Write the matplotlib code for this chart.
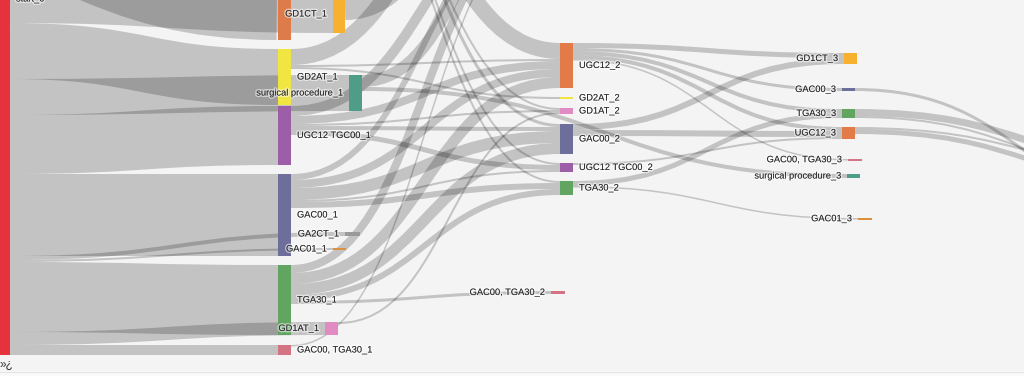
import matplotlib
matplotlib.use("Agg")
import matplotlib.pyplot as plt
from matplotlib.path import Path
from matplotlib.patches import PathPatch, Rectangle
import matplotlib.patheffects as pe

# ---------------- data ----------------
nodes = ["start_0",
         "UGC12_1", "GD1CT_1", "GD2AT_1", "surgical procedure_1", "UGC12 TGC00_1",
         "GAC00_1", "GA2CT_1", "GAC01_1", "TGA30_1", "GD1AT_1", "GAC00, TGA30_1",
         "GD1CT_2", "GD3_2",
         "UGC12_2", "GD2AT_2", "GD1AT_2", "GAC00_2", "UGC12 TGC00_2", "TGA30_2",
         "GAC00, TGA30_2",
         "GD1CT_3", "GAC00_3", "TGA30_3", "UGC12_3", "GAC00, TGA30_3",
         "surgical procedure_3", "GAC01_3",
         "TGA30_4", "UGC12_4", "GAC00_4"]

link_source = ["start_0"] * 11 + [
    "UGC12_1", "UGC12_1", "UGC12_1", "UGC12_1", "UGC12_1", "UGC12_1",
    "GD1CT_1",
    "GD2AT_1", "GD2AT_1", "GD2AT_1",
    "surgical procedure_1", "surgical procedure_1",
    "UGC12 TGC00_1", "UGC12 TGC00_1", "UGC12 TGC00_1", "UGC12 TGC00_1", "UGC12 TGC00_1",
    "GAC00_1", "GAC00_1", "GAC00_1", "GAC00_1", "GAC00_1",
    "TGA30_1", "TGA30_1", "TGA30_1", "TGA30_1", "TGA30_1",
    "GD1AT_1", "GAC00, TGA30_1",
    "UGC12_2", "UGC12_2", "UGC12_2", "UGC12_2", "UGC12_2",
    "GAC00_2", "GAC00_2", "UGC12 TGC00_2", "TGA30_2", "TGA30_2",
    "GAC00_3", "TGA30_3", "TGA30_3", "UGC12_3", "UGC12_3"]
link_target = [
    "UGC12_1", "GD1CT_1", "GD2AT_1", "surgical procedure_1", "UGC12 TGC00_1",
    "GAC00_1", "GA2CT_1", "GAC01_1", "TGA30_1", "GD1AT_1", "GAC00, TGA30_1",
    "GD1CT_2", "UGC12_2", "GD1AT_2", "GAC00_2", "UGC12 TGC00_2", "TGA30_2",
    "GD1CT_2",
    "GD1CT_2", "UGC12_2", "GD2AT_2",
    "GD3_2", "surgical procedure_3",
    "GD3_2", "UGC12_2", "GD1AT_2", "GAC00_2", "UGC12 TGC00_2",
    "GD3_2", "UGC12_2", "GAC00_2", "UGC12 TGC00_2", "TGA30_2",
    "GD3_2", "UGC12_2", "GAC00_2", "TGA30_2", "GAC00, TGA30_2",
    "GD1AT_2", "GD3_2",
    "GD1CT_3", "GAC00_3", "TGA30_3", "UGC12_3", "GAC00, TGA30_3",
    "GD1CT_3", "UGC12_3", "UGC12_3", "TGA30_3", "GAC01_3",
    "GAC00_4", "TGA30_4", "UGC12_4", "UGC12_4", "TGA30_4"]
link_value = [
    342, 38, 56, 36, 59, 82, 4, 2, 70, 13, 10,
    60, 16, 2, 3, 2, 2,
    25,
    16, 2, 2,
    12, 4,
    10, 8, 2, 4, 5,
    6, 8, 12, 2, 6,
    8, 11, 11, 6, 3,
    2, 1.5,
    5, 3, 4, 4, 1.5,
    6, 6, 2, 5, 1.5,
    3, 7, 2, 5, 2]

# ---------------- layout / style ----------------
SCALE = 1.0  # px per unit
layout = {  # name: (x0, y0, width, colour, label side)
    "start_0": (0, -357, 10, "#e6323c", "r"),
    "UGC12_1": (278, -302, 13, "#dd7b4b", "r"),
    "GD1CT_1": (333, -5, 12, "#f7b12f", "l"),
    "GD2AT_1": (278, 49, 13, "#f1e641", "r"),
    "surgical procedure_1": (349, 75, 13, "#4f9c88", "l"),
    "UGC12 TGC00_1": (278, 106, 13, "#9b5ea7", "r"),
    "GAC00_1": (278, 174, 13, "#6e6e9b", "r"),
    "GA2CT_1": (345, 232, 15, "#9a9a9a", "l"),
    "GAC01_1": (333, 248, 13, "#dc8f3e", "l"),
    "TGA30_1": (278, 265, 13, "#62a561", "r"),
    "GD1AT_1": (325, 322, 13, "#e08bc1", "l"),
    "GAC00, TGA30_1": (278, 345, 13, "#d47483", "r"),
    "GD1CT_2": (560, -300, 13, "#f7b12f", "r"),
    "GD3_2": (560, -120, 13, "#9a9a9a", "r"),
    "UGC12_2": (560, 43, 13, "#e27b48", "r"),
    "GD2AT_2": (560, 97, 13, "#f1e641", "r"),
    "GD1AT_2": (560, 108, 13, "#e08bc1", "r"),
    "GAC00_2": (560, 124, 13, "#6e6e9b", "r"),
    "UGC12 TGC00_2": (560, 163, 13, "#9b5ea7", "r"),
    "TGA30_2": (560, 181, 13, "#62a561", "r"),
    "GAC00, TGA30_2": (551, 291, 14, "#d47483", "l"),
    "GD1CT_3": (844, 53, 13, "#f7b12f", "l"),
    "GAC00_3": (842, 88, 13, "#6e6e9b", "l"),
    "TGA30_3": (842, 109, 13, "#62a561", "l"),
    "UGC12_3": (842, 127, 13, "#e27b48", "l"),
    "GAC00, TGA30_3": (848, 159, 14, "#d47483", "l"),
    "surgical procedure_3": (847, 174, 13, "#4f9c88", "l"),
    "GAC01_3": (858, 218, 14, "#dc8f3e", "l"),
    "TGA30_4": (1200, 165, 13, "#62a561", "l"),
    "UGC12_4": (1200, 182, 13, "#e27b48", "l"),
    "GAC00_4": (1200, 215, 13, "#6e6e9b", "l"),
}
W, H = 1024, 376

# ---------------- sankey geometry ----------------
vin = {n: 0.0 for n in nodes}
vout = {n: 0.0 for n in nodes}
for s, t, v in zip(link_source, link_target, link_value):
    vout[s] += v
    vin[t] += v
geo = {}
for n in nodes:
    x0, y0, w, c, side = layout[n]
    h = max(vin[n], vout[n]) * SCALE
    geo[n] = dict(x0=x0, x1=x0 + w, y0=y0, y1=y0 + h, c=c, side=side)
center = {n: (geo[n]["y0"] + geo[n]["y1"]) / 2 for n in nodes}

links = list(zip(link_source, link_target, link_value))
sy = {}
ty = {}
for n in nodes:
    outs = sorted([i for i, l in enumerate(links) if l[0] == n], key=lambda i: center[links[i][1]])
    y = geo[n]["y0"]
    for i in outs:
        w = links[i][2] * SCALE
        sy[i] = y + w / 2
        y += w
    ins = sorted([i for i, l in enumerate(links) if l[1] == n], key=lambda i: center[links[i][0]])
    y = geo[n]["y0"]
    for i in ins:
        w = links[i][2] * SCALE
        ty[i] = y + w / 2
        y += w

# ---------------- drawing ----------------
BG = "#f4f4f4"
fig = plt.figure(figsize=(10.24, 3.76), dpi=100, facecolor=BG)
ax = fig.add_axes([0, 0, 1, 1])
ax.set_facecolor(BG)
ax.set_xlim(0, W)
ax.set_ylim(H, 0)
ax.axis("off")

PX = 72.0 / 100.0
for i, (s, t, v) in enumerate(links):
    xa = geo[s]["x1"]
    xb = geo[t]["x0"]
    xm = (xa + xb) / 2
    verts = [(xa, sy[i]), (xm, sy[i]), (xm, ty[i]), (xb, ty[i])]
    path = Path(verts, [Path.MOVETO, Path.CURVE4, Path.CURVE4, Path.CURVE4])
    ax.add_patch(PathPatch(path, facecolor="none", edgecolor=(0, 0, 0, 0.2),
                           lw=max(1.0, v * SCALE) * PX, capstyle="butt", zorder=2))

FONT = ["Liberation Sans", "DejaVu Sans"]
halo = [pe.withStroke(linewidth=2.0, foreground=(1, 1, 1, 0.55))]
for n in nodes:
    g = geo[n]
    ax.add_patch(Rectangle((g["x0"], g["y0"]), g["x1"] - g["x0"], g["y1"] - g["y0"],
                           facecolor=g["c"], edgecolor="none", zorder=3))
    cy = center[n]
    # labels of nodes lying wholly outside the visible crop are not drawn
    if cy < -8 or g["x0"] > W:
        continue
    if g["side"] == "r":
        ax.text(g["x1"] + 6, cy, n, ha="left", va="center", fontsize=6.7,
                family=FONT, color="#222222", path_effects=halo, zorder=4)
    else:
        ax.text(g["x0"] - 6, cy, n, ha="right", va="center", fontsize=6.7,
                family=FONT, color="#222222", path_effects=halo, zorder=4)

# bottom strip
ax.add_patch(Rectangle((0, 371), W, 6, facecolor="#f9f9f9", edgecolor="none", zorder=1))
ax.plot([0, W], [371.5, 371.5], color="#e4e4e4", lw=0.8, zorder=1)
ax.text(0, 364.5, "»¿", ha="left", va="center", fontsize=8.5,
        family=FONT, color="#333333", zorder=4)

fig.savefig("out.png", dpi=100, facecolor=BG)
